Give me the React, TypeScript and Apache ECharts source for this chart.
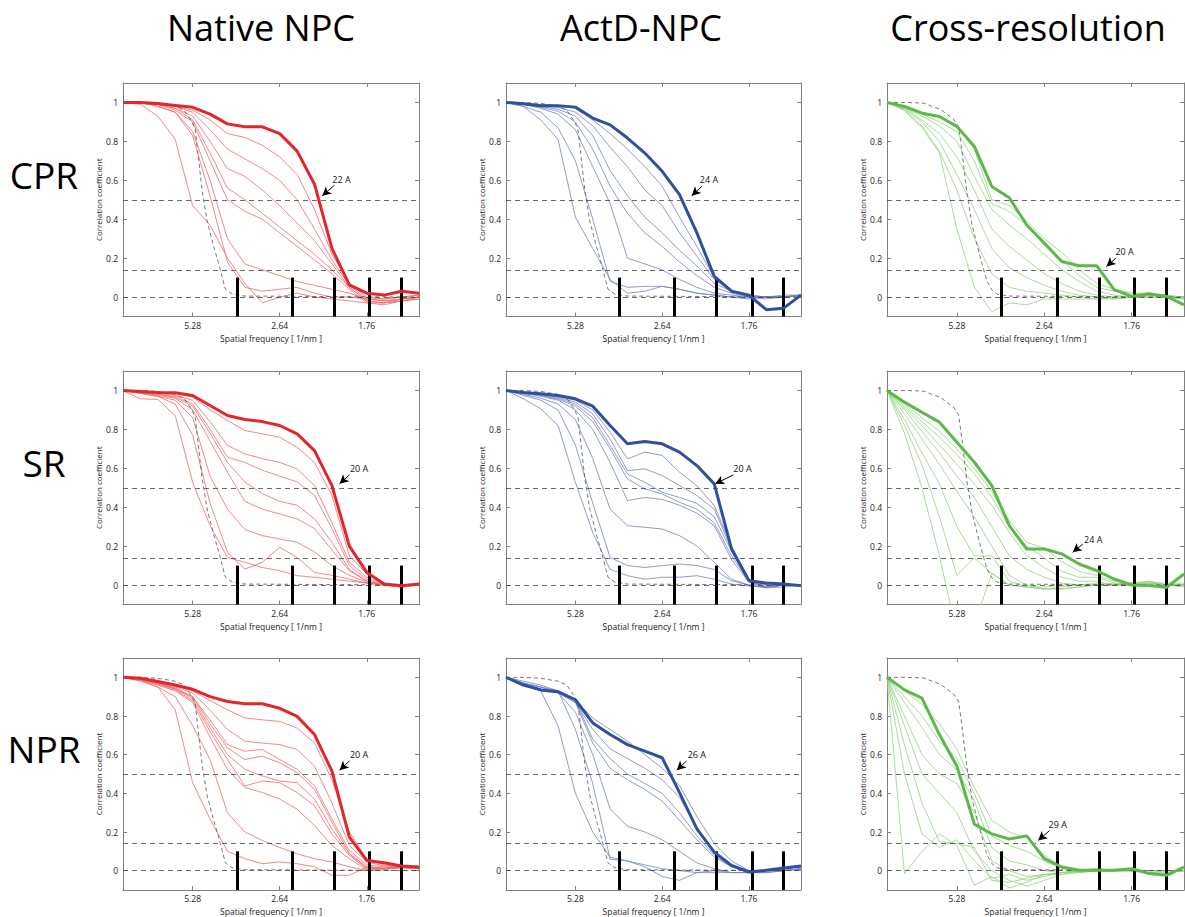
import React, { useEffect, useRef } from "react";
import * as echarts from "echarts";

// ---------- data ----------
const shells = [1, 2, 3, 4, 5, 6, 7, 8, 9, 10, 11, 12, 13, 14, 15, 16, 17, 18];
const xTickValues = [5, 10, 15];
const xTickLabels = ["5.28", "2.64", "1.76"];
const yTickValues = [0, 0.2, 0.4, 0.6, 0.8, 1];
const thresholds = [0.5, 0.143, 0];
const barPositions = [7.55, 10.72, 13.13, 15.17, 16.96];
const colTitles = ["Native NPC", "ActD-NPC", "Cross-resolution"];
const rowTitles = ["CPR", "SR", "NPR"];
const resolutionLabels = ["22 A", "24 A", "20 A", "20 A", "20 A", "24 A", "20 A", "26 A", "29 A"];

const refNpcX = [1, 2, 3, 4, 4.5, 4.96, 5.15, 5.54, 5.83, 6.21, 6.5, 6.88, 7.27, 8, 18];
const refNpcY = [1, 1, 0.995, 0.98, 0.96, 0.9, 0.86, 0.55, 0.39, 0.26, 0.17, 0.04, 0.015, 0.005, 0];
const refCrossX = [1, 2, 3.08, 4.04, 4.8, 5.1, 5.29, 5.58, 5.87, 6.35, 6.73, 7.02, 7.31, 8, 18];
const refCrossY = [1, 1, 0.997, 0.965, 0.915, 0.875, 0.75, 0.53, 0.37, 0.2, 0.08, 0.035, 0.015, 0.005, 0];

// Native NPC, CPR
const nativeCprBest = [1, 1, 0.995, 0.985, 0.975, 0.94, 0.89, 0.875, 0.875, 0.84, 0.75, 0.58, 0.25, 0.063, 0.02, 0.01, 0.03, 0.02];
const nativeCprOthers = [
  [1, 1, 0.99, 0.98, 0.96, 0.91, 0.84, 0.82, 0.78, 0.72, 0.63, 0.45, 0.22, 0.07, 0.0, -0.01, 0.0, 0.01],
  [1, 1, 0.99, 0.98, 0.95, 0.86, 0.76, 0.71, 0.66, 0.6, 0.5, 0.35, 0.19, 0.06, -0.01, -0.02, -0.01, 0.0],
  [1, 1, 0.99, 0.97, 0.93, 0.8, 0.66, 0.62, 0.55, 0.47, 0.38, 0.29, 0.17, 0.05, -0.02, -0.03, -0.01, 0.0],
  [1, 1, 0.99, 0.97, 0.91, 0.74, 0.56, 0.5, 0.43, 0.36, 0.29, 0.22, 0.14, 0.05, -0.02, -0.03, -0.02, 0.0],
  [1, 1, 0.99, 0.96, 0.9, 0.7, 0.5, 0.44, 0.4, 0.33, 0.26, 0.19, 0.12, 0.04, -0.03, -0.04, -0.02, -0.01],
  [1, 1, 0.98, 0.95, 0.85, 0.6, 0.3, 0.17, 0.14, 0.11, 0.08, 0.06, 0.04, 0.02, -0.01, -0.02, -0.01, 0.0],
  [1, 1, 0.98, 0.95, 0.83, 0.52, 0.18, 0.05, 0.03, 0.04, 0.05, 0.02, 0.0, 0.0, -0.01, -0.01, 0.0, 0.01],
  [1, 0.99, 0.93, 0.81, 0.47, 0.37, 0.2, 0.07, -0.03, 0.0, 0.02, 0.0, -0.01, -0.02, -0.03, -0.03, -0.02, -0.01],
];

// ActD-NPC, CPR
const actdCprBest = [1, 0.993, 0.983, 0.983, 0.976, 0.92, 0.885, 0.817, 0.74, 0.646, 0.526, 0.33, 0.106, 0.03, 0.01, -0.065, -0.057, 0.01];
const actdCprOthers = [
  [1, 0.995, 0.99, 0.985, 0.97, 0.91, 0.84, 0.76, 0.67, 0.57, 0.41, 0.26, 0.1, 0.03, 0.01, 0.0, 0.01, 0.01],
  [1, 0.995, 0.985, 0.975, 0.95, 0.88, 0.77, 0.67, 0.55, 0.47, 0.33, 0.21, 0.09, 0.03, 0.01, 0.0, 0.0, 0.01],
  [1, 0.99, 0.98, 0.965, 0.93, 0.83, 0.65, 0.52, 0.41, 0.33, 0.24, 0.16, 0.07, 0.03, 0.0, 0.0, 0.0, 0.01],
  [1, 0.99, 0.975, 0.955, 0.9, 0.76, 0.57, 0.43, 0.33, 0.26, 0.18, 0.11, 0.05, 0.02, 0.0, -0.01, 0.0, 0.01],
  [1, 0.99, 0.97, 0.94, 0.86, 0.67, 0.48, 0.2, 0.17, 0.14, 0.09, 0.05, 0.02, 0.01, 0.0, 0.0, 0.0, 0.01],
  [1, 0.98, 0.95, 0.87, 0.7, 0.4, 0.08, 0.05, 0.055, 0.055, 0.04, 0.02, 0.01, 0.0, -0.01, 0.0, 0.0, 0.01],
  [1, 0.98, 0.91, 0.81, 0.41, 0.25, 0.09, 0.02, 0.03, 0.055, 0.04, 0.02, 0.01, 0.0, 0.0, 0.0, 0.0, 0.01],
];

// Cross-resolution, CPR
const crossCprBest = [1, 0.98, 0.945, 0.928, 0.877, 0.774, 0.568, 0.51, 0.37, 0.277, 0.183, 0.161, 0.161, 0.038, 0.003, 0.017, 0.003, -0.04];
const crossCprOthers = [
  [1, 0.98, 0.95, 0.93, 0.88, 0.76, 0.5, 0.47, 0.39, 0.3, 0.23, 0.14, 0.07, 0.04, 0.02, 0.02, 0.01, -0.01],
  [1, 0.975, 0.94, 0.9, 0.85, 0.7, 0.48, 0.44, 0.37, 0.28, 0.19, 0.11, 0.05, 0.03, 0.02, 0.01, 0.01, 0.0],
  [1, 0.97, 0.93, 0.88, 0.8, 0.62, 0.45, 0.37, 0.3, 0.22, 0.14, 0.08, 0.03, 0.01, 0.0, 0.01, 0.0, 0.0],
  [1, 0.97, 0.91, 0.84, 0.72, 0.55, 0.35, 0.26, 0.19, 0.12, 0.07, 0.03, 0.01, 0.0, 0.0, 0.01, 0.0, -0.01],
  [1, 0.965, 0.9, 0.8, 0.63, 0.45, 0.25, 0.15, 0.1, 0.06, 0.03, 0.01, 0.0, -0.01, 0.0, 0.0, 0.0, 0.0],
  [1, 0.96, 0.88, 0.75, 0.55, 0.3, 0.12, 0.05, 0.03, 0.02, 0.01, 0.0, -0.01, -0.01, 0.0, 0.0, 0.0, 0.0],
  [1, 0.96, 0.87, 0.74, 0.35, 0.05, -0.075, -0.03, -0.04, -0.01, -0.01, -0.01, -0.01, 0.0, 0.0, 0.01, 0.0, 0.0],
];

// Native NPC, SR
const nativeSrBest = [1, 0.995, 0.99, 0.988, 0.974, 0.923, 0.871, 0.851, 0.84, 0.82, 0.777, 0.691, 0.511, 0.2, 0.065, 0.005, -0.003, 0.005];
const nativeSrOthers = [
  [1, 0.995, 0.99, 0.985, 0.965, 0.9, 0.846, 0.794, 0.777, 0.76, 0.708, 0.63, 0.46, 0.15, 0.057, 0.01, -0.01, 0.005],
  [1, 0.99, 0.985, 0.975, 0.95, 0.84, 0.717, 0.674, 0.65, 0.63, 0.597, 0.511, 0.32, 0.117, 0.04, 0.005, -0.01, 0.005],
  [1, 0.99, 0.98, 0.97, 0.93, 0.8, 0.657, 0.63, 0.59, 0.56, 0.53, 0.46, 0.29, 0.1, 0.03, 0.0, -0.01, 0.005],
  [1, 0.99, 0.98, 0.965, 0.92, 0.78, 0.63, 0.53, 0.47, 0.43, 0.41, 0.34, 0.22, 0.08, 0.02, 0.0, -0.01, 0.005],
  [1, 0.99, 0.975, 0.96, 0.9, 0.74, 0.58, 0.43, 0.39, 0.365, 0.34, 0.29, 0.18, 0.074, 0.02, 0.0, -0.01, 0.0],
  [1, 0.985, 0.97, 0.95, 0.86, 0.56, 0.39, 0.285, 0.254, 0.237, 0.22, 0.17, 0.1, 0.05, 0.015, 0.0, -0.01, 0.0],
  [1, 0.985, 0.97, 0.93, 0.77, 0.42, 0.168, 0.082, 0.117, 0.194, 0.142, 0.065, 0.05, 0.03, 0.01, 0.0, 0.0, 0.0],
  [1, 0.957, 0.954, 0.871, 0.528, 0.305, 0.142, 0.117, 0.09, 0.074, 0.048, 0.04, 0.03, 0.02, 0.01, 0.0, -0.01, 0.0],
];

// ActD-NPC, SR
const actdSrBest = [1, 0.99, 0.983, 0.974, 0.957, 0.919, 0.82, 0.726, 0.738, 0.726, 0.683, 0.614, 0.52, 0.185, 0.022, 0.01, 0.005, -0.003];
const actdSrOthers = [
  [1, 0.99, 0.98, 0.97, 0.95, 0.9, 0.786, 0.648, 0.683, 0.666, 0.58, 0.511, 0.408, 0.2, 0.03, 0.0, 0.0, -0.005],
  [1, 0.99, 0.98, 0.965, 0.94, 0.88, 0.75, 0.588, 0.597, 0.563, 0.511, 0.46, 0.39, 0.185, 0.025, 0.0, 0.0, -0.005],
  [1, 0.99, 0.975, 0.96, 0.93, 0.86, 0.717, 0.571, 0.528, 0.477, 0.45, 0.42, 0.35, 0.175, 0.02, -0.01, 0.0, -0.005],
  [1, 0.985, 0.975, 0.955, 0.92, 0.84, 0.7, 0.545, 0.494, 0.468, 0.425, 0.39, 0.32, 0.15, 0.02, -0.01, 0.0, 0.0],
  [1, 0.985, 0.97, 0.95, 0.9, 0.8, 0.63, 0.434, 0.45, 0.44, 0.41, 0.37, 0.305, 0.13, 0.015, -0.01, 0.0, 0.0],
  [1, 0.98, 0.96, 0.93, 0.85, 0.65, 0.39, 0.305, 0.297, 0.288, 0.254, 0.2, 0.117, 0.03, 0.0, -0.015, -0.01, 0.0],
  [1, 0.975, 0.95, 0.9, 0.72, 0.42, 0.142, 0.1, 0.09, 0.1, 0.108, 0.1, 0.08, 0.022, 0.0, -0.01, 0.0, 0.0],
  [1, 0.957, 0.906, 0.82, 0.528, 0.27, 0.08, 0.048, 0.03, 0.04, 0.04, 0.048, 0.03, 0.005, -0.005, -0.012, 0.0, 0.0],
];

// Cross-resolution, SR
const crossSrBest = [1, 0.94, 0.888, 0.837, 0.734, 0.631, 0.511, 0.305, 0.185, 0.185, 0.16, 0.108, 0.074, 0.031, 0.0, -0.003, -0.012, 0.057];
const crossSrOthers = [
  [1, 0.93, 0.86, 0.79, 0.7, 0.6, 0.48, 0.33, 0.22, 0.19, 0.12, 0.07, 0.05, 0.02, 0.01, 0.01, 0.0, 0.01],
  [1, 0.92, 0.84, 0.76, 0.67, 0.57, 0.45, 0.3, 0.2, 0.14, 0.07, 0.04, 0.04, 0.01, 0.0, 0.01, 0.01, 0.0],
  [1, 0.91, 0.82, 0.72, 0.62, 0.52, 0.41, 0.27, 0.15, 0.09, 0.04, 0.02, 0.02, 0.0, 0.0, 0.02, 0.0, 0.0],
  [1, 0.9, 0.79, 0.68, 0.56, 0.45, 0.3, 0.15, 0.08, 0.04, 0.01, 0.0, 0.01, 0.0, 0.01, 0.01, 0.0, 0.0],
  [1, 0.88, 0.75, 0.62, 0.48, 0.35, 0.2, 0.05, 0.0, -0.02, -0.02, -0.01, 0.0, 0.0, 0.0, 0.01, 0.0, -0.01],
  [1, 0.85, 0.68, 0.52, 0.3, 0.15, 0.15, 0.02, -0.01, -0.02, -0.02, -0.01, 0.0, 0.0, 0.01, 0.02, 0.0, 0.0],
  [1, 0.82, 0.62, 0.35, 0.05, 0.14, 0.06, 0.0, -0.01, -0.02, -0.01, 0.0, 0.0, 0.01, 0.0, 0.01, 0.0, 0.0],
  [1, 0.78, 0.5, 0.15, -0.25, -0.2, 0.06, 0.0, -0.01, -0.01, 0.0, 0.0, 0.0, 0.0, 0.0, 0.0, 0.0, 0.0],
];

// Native NPC, NPR
const nativeNprBest = [1, 0.995, 0.978, 0.96, 0.938, 0.9, 0.875, 0.863, 0.863, 0.84, 0.798, 0.704, 0.515, 0.173, 0.053, 0.041, 0.024, 0.019];
const nativeNprOthers = [
  [1, 0.995, 0.975, 0.955, 0.93, 0.88, 0.832, 0.79, 0.78, 0.772, 0.738, 0.66, 0.47, 0.2, 0.06, 0.03, 0.02, 0.02],
  [1, 0.99, 0.97, 0.95, 0.92, 0.83, 0.73, 0.67, 0.66, 0.652, 0.627, 0.54, 0.35, 0.13, 0.045, 0.025, 0.02, 0.02],
  [1, 0.99, 0.97, 0.945, 0.9, 0.78, 0.652, 0.618, 0.627, 0.575, 0.524, 0.438, 0.267, 0.104, 0.03, 0.02, 0.02, 0.015],
  [1, 0.99, 0.97, 0.94, 0.9, 0.76, 0.635, 0.575, 0.592, 0.558, 0.507, 0.42, 0.25, 0.09, 0.02, 0.015, 0.02, 0.015],
  [1, 0.99, 0.965, 0.94, 0.89, 0.74, 0.6, 0.524, 0.49, 0.464, 0.455, 0.37, 0.216, 0.087, 0.015, 0.01, 0.02, 0.015],
  [1, 0.985, 0.965, 0.935, 0.88, 0.72, 0.575, 0.438, 0.464, 0.455, 0.404, 0.336, 0.19, 0.079, 0.01, 0.01, 0.02, 0.01],
  [1, 0.985, 0.96, 0.93, 0.87, 0.69, 0.524, 0.43, 0.404, 0.37, 0.318, 0.233, 0.13, 0.062, 0.005, 0.01, 0.02, 0.01],
  [1, 0.98, 0.95, 0.9, 0.75, 0.575, 0.3, 0.2, 0.156, 0.12, 0.087, 0.062, 0.045, 0.02, 0.0, 0.005, 0.015, 0.01],
  [1, 0.986, 0.95, 0.832, 0.455, 0.267, 0.1, 0.062, 0.036, 0.045, 0.036, 0.02, -0.024, -0.024, 0.019, 0.01, 0.015, 0.01],
];

// ActD-NPC, NPR
const actdNprBest = [1, 0.96, 0.935, 0.926, 0.884, 0.764, 0.704, 0.652, 0.618, 0.584, 0.404, 0.216, 0.096, 0.027, -0.007, 0.002, 0.014, 0.024];
const actdNprOthers = [
  [1, 0.97, 0.94, 0.92, 0.88, 0.79, 0.73, 0.67, 0.6, 0.53, 0.44, 0.28, 0.14, 0.05, 0.0, 0.0, 0.01, 0.02],
  [1, 0.96, 0.93, 0.92, 0.87, 0.73, 0.63, 0.58, 0.53, 0.47, 0.38, 0.22, 0.1, 0.03, -0.01, 0.0, 0.01, 0.02],
  [1, 0.97, 0.95, 0.93, 0.88, 0.68, 0.58, 0.5, 0.45, 0.4, 0.3, 0.18, 0.08, 0.02, -0.01, 0.0, 0.0, 0.01],
  [1, 0.97, 0.95, 0.92, 0.87, 0.66, 0.53, 0.47, 0.42, 0.36, 0.26, 0.16, 0.07, 0.02, -0.01, -0.01, 0.0, 0.01],
  [1, 0.97, 0.95, 0.92, 0.82, 0.6, 0.32, 0.23, 0.2, 0.16, 0.1, 0.04, 0.01, -0.01, -0.01, -0.01, 0.0, 0.01],
  [1, 0.98, 0.96, 0.93, 0.73, 0.45, 0.06, 0.05, 0.02, -0.03, -0.05, -0.01, 0.0, -0.01, -0.01, 0.0, 0.0, 0.01],
  [1, 0.97, 0.93, 0.75, 0.4, 0.2, 0.07, 0.05, 0.03, 0.01, 0.0, -0.01, -0.01, -0.01, -0.01, 0.0, 0.0, 0.01],
];

// Cross-resolution, NPR
const crossNprBest = [1, 0.935, 0.892, 0.704, 0.541, 0.241, 0.19, 0.164, 0.18, 0.062, 0.019, 0.002, 0.002, 0.002, 0.01, -0.015, -0.024, 0.019];
const crossNprOthers = [
  [1, 0.93, 0.86, 0.76, 0.63, 0.43, 0.26, 0.2, 0.17, 0.08, 0.02, 0.0, 0.01, 0.0, 0.01, -0.01, -0.02, 0.01],
  [1, 0.9, 0.8, 0.67, 0.58, 0.4, 0.18, 0.13, 0.1, 0.05, 0.01, 0.0, 0.0, 0.0, 0.0, -0.01, -0.01, 0.0],
  [1, 0.87, 0.74, 0.6, 0.52, 0.36, 0.12, 0.05, 0.03, 0.0, -0.01, 0.0, 0.01, 0.0, 0.0, -0.01, 0.0, 0.0],
  [1, 0.8, 0.6, 0.5, 0.45, 0.3, 0.05, 0.0, -0.03, -0.02, -0.02, 0.0, 0.0, 0.0, 0.0, 0.0, 0.0, 0.0],
  [1, 0.75, 0.5, 0.4, 0.3, 0.1, 0.0, -0.05, -0.08, -0.05, -0.02, -0.01, 0.0, 0.0, 0.0, 0.0, 0.0, 0.0],
  [1, 0.65, 0.35, 0.15, 0.14, 0.12, -0.05, -0.06, -0.04, -0.02, -0.01, 0.0, 0.0, 0.0, 0.0, 0.0, 0.0, 0.0],
  [1, 0.5, 0.19, 0.12, 0.16, 0.05, -0.04, -0.02, -0.05, -0.03, -0.01, -0.01, 0.0, 0.0, 0.0, 0.0, 0.0, 0.0],
  [1, -0.015, 0.1, 0.19, 0.13, -0.075, -0.03, -0.09, -0.06, -0.02, -0.01, 0.0, 0.0, 0.0, 0.0, 0.0, 0.0, 0.0],
];

// ---------- layout / style ----------
const gridLefts = [123, 506, 887];
const gridWidths = [296, 295, 297];
const gridTops = [83, 371, 658];
const gridHeight = 233.5;
const titleCentersX = [261, 641, 1028];
const titleY = 27;
const rowLabelX = 44;
const rowLabelYs = [174, 462, 748];

const thickColors = ["#e3262c", "#30509f", "#5cb848"];
const thinColors = ["#ec6b6b", "#7283c4", "#95d282"];
const axisGray = "#808080";
const FONT = "'Open Sans', 'DejaVu Sans', sans-serif";

// annotation placement in data coordinates: [label], [arrow tail], [arrow tip]
const annotationLayout = [
  { label: [13.55, 0.605], tail: [13.15, 0.575], tip: [12.44, 0.52] },
  { label: [12.7, 0.605], tail: [12.3, 0.57], tip: [11.7, 0.52] },
  { label: [14.6, 0.235], tail: [14.1, 0.2], tip: [13.56, 0.157] },
  { label: [14.56, 0.6], tail: [14.0, 0.566], tip: [13.44, 0.52] },
  { label: [14.63, 0.6], tail: [14.1, 0.566], tip: [13.05, 0.52] },
  { label: [12.8, 0.233], tail: [12.2, 0.21], tip: [11.63, 0.168] },
  { label: [14.56, 0.6], tail: [14.0, 0.567], tip: [13.44, 0.52] },
  { label: [12.0, 0.6], tail: [11.4, 0.567], tip: [10.84, 0.52] },
  { label: [10.77, 0.24], tail: [10.3, 0.207], tip: [9.65, 0.156] },
];

const panels = [
  { best: nativeCprBest, others: nativeCprOthers },
  { best: actdCprBest, others: actdCprOthers },
  { best: crossCprBest, others: crossCprOthers },
  { best: nativeSrBest, others: nativeSrOthers },
  { best: actdSrBest, others: actdSrOthers },
  { best: crossSrBest, others: crossSrOthers },
  { best: nativeNprBest, others: nativeNprOthers },
  { best: actdNprBest, others: actdNprOthers },
  { best: crossNprBest, others: crossNprOthers },
];

function buildOption() {
  const grid: any[] = [];
  const xAxis: any[] = [];
  const yAxis: any[] = [];
  const series: any[] = [];
  const graphic: any[] = [];

  panels.forEach((p, g) => {
    const r = Math.floor(g / 3);
    const c = g % 3;
    grid.push({ left: gridLefts[c], top: gridTops[r], width: gridWidths[c], height: gridHeight });

    const tickLine = { color: axisGray, width: 1 };
    xAxis.push({
      gridIndex: g, type: "value", position: "bottom", min: 1, max: 18,
      axisLine: { show: true, onZero: false, lineStyle: tickLine },
      axisTick: { show: true, inside: true, length: 4, customValues: xTickValues, lineStyle: tickLine },
      axisLabel: {
        show: true, customValues: xTickValues, margin: 4, fontSize: 8.5, color: "#222", fontFamily: FONT,
        formatter: (v: number) => xTickLabels[xTickValues.indexOf(v)] ?? "",
      },
      splitLine: { show: false },
      name: "Spatial frequency [ 1/nm ]", nameLocation: "middle", nameGap: 17,
      nameTextStyle: { fontSize: 8.5, color: "#222", fontFamily: FONT },
    });
    xAxis.push({
      gridIndex: g, type: "value", position: "top", min: 1, max: 18,
      axisLine: { show: true, onZero: false, lineStyle: tickLine },
      axisTick: { show: true, inside: true, length: 4, customValues: xTickValues, lineStyle: tickLine },
      axisLabel: { show: false }, splitLine: { show: false },
    });
    yAxis.push({
      gridIndex: g, type: "value", position: "left", min: -0.1, max: 1.1,
      axisLine: { show: true, onZero: false, lineStyle: tickLine },
      axisTick: { show: true, inside: true, length: 4, customValues: yTickValues, lineStyle: tickLine },
      axisLabel: {
        show: true, customValues: yTickValues, margin: 5, fontSize: 8.5, color: "#222", fontFamily: FONT,
        formatter: (v: number) => String(Math.round(v * 10) / 10),
      },
      splitLine: { show: false },
      name: "Correlation coefficient", nameLocation: "middle", nameGap: 20,
      nameTextStyle: { fontSize: 8, color: "#222", fontFamily: FONT },
    });
    yAxis.push({
      gridIndex: g, type: "value", position: "right", min: -0.1, max: 1.1,
      axisLine: { show: true, onZero: false, lineStyle: tickLine },
      axisTick: { show: true, inside: true, length: 4, customValues: yTickValues, lineStyle: tickLine },
      axisLabel: { show: false }, splitLine: { show: false },
    });

    const xi = g * 2;
    const yi = g * 2;
    const refX = c === 2 ? refCrossX : refNpcX;
    const refY = c === 2 ? refCrossY : refNpcY;

    p.others.forEach((arr) => {
      series.push({
        type: "line", xAxisIndex: xi, yAxisIndex: yi, silent: true, symbol: "none", z: 2,
        data: shells.map((s, i) => [s, arr[i]]),
        lineStyle: { color: thinColors[c], width: 0.8 },
      });
    });

    series.push({
      type: "line", xAxisIndex: xi, yAxisIndex: yi, silent: true, symbol: "none", z: 3,
      data: refX.map((x, i) => [x, refY[i]]),
      lineStyle: { color: "#555", width: 0.8, type: [4, 3] },
      markLine: {
        silent: true, symbol: ["none", "none"], label: { show: false },
        lineStyle: { color: "#444", width: 0.8, type: [5, 4] },
        data: thresholds.map((t) => ({ yAxis: t })),
      },
    });

    const ann = annotationLayout[g];
    series.push({
      type: "line", xAxisIndex: xi, yAxisIndex: yi, silent: true, symbol: "none", z: 5,
      data: shells.map((s, i) => [s, p.best[i]]),
      lineStyle: { color: thickColors[c], width: 3 },
      markLine: {
        silent: true, symbol: ["none", "none"], label: { show: false },
        data: [
          ...barPositions.map((b) => [
            { coord: [b, -0.1], lineStyle: { color: "#000", width: 3, type: "solid" } },
            { coord: [b, 0.1] },
          ]),
          [
            { coord: ann.tail, symbol: "none", lineStyle: { color: "#000", width: 1, type: "solid" } },
            { coord: ann.tip, symbol: "arrow", symbolSize: [7, 9] },
          ],
        ],
      },
      markPoint: {
        silent: true,
        data: [{
          coord: ann.label, symbol: "circle", symbolSize: 1,
          itemStyle: { color: "rgba(0,0,0,0)" },
          label: { show: true, position: "inside", formatter: resolutionLabels[g], color: "#111", fontSize: 9, fontFamily: FONT },
        }],
      },
    });
  });

  colTitles.forEach((t, i) => {
    graphic.push({
      type: "text", x: titleCentersX[i], y: titleY, silent: true,
      style: { text: t, fontSize: 36, fontFamily: FONT, fill: "#000", textAlign: "center", textVerticalAlign: "middle" },
    });
  });
  rowTitles.forEach((t, i) => {
    graphic.push({
      type: "text", x: rowLabelX, y: rowLabelYs[i], silent: true,
      style: { text: t, fontSize: 37, fontFamily: FONT, fill: "#000", textAlign: "center", textVerticalAlign: "middle" },
    });
  });

  return {
    animation: false,
    backgroundColor: "#ffffff",
    textStyle: { fontFamily: FONT },
    grid, xAxis, yAxis, series, graphic,
  };
}

export default function App() {
  const ref = useRef<HTMLDivElement>(null);
  useEffect(() => {
    if (!ref.current) return;
    const chart = echarts.init(ref.current, undefined, { renderer: "svg" });
    chart.setOption(buildOption() as any);
    return () => chart.dispose();
  }, []);
  return (
    <div
      ref={ref}
      style={{ position: "fixed", left: 0, top: 0, width: 1185, height: 917, background: "#fff" }}
    />
  );
}
